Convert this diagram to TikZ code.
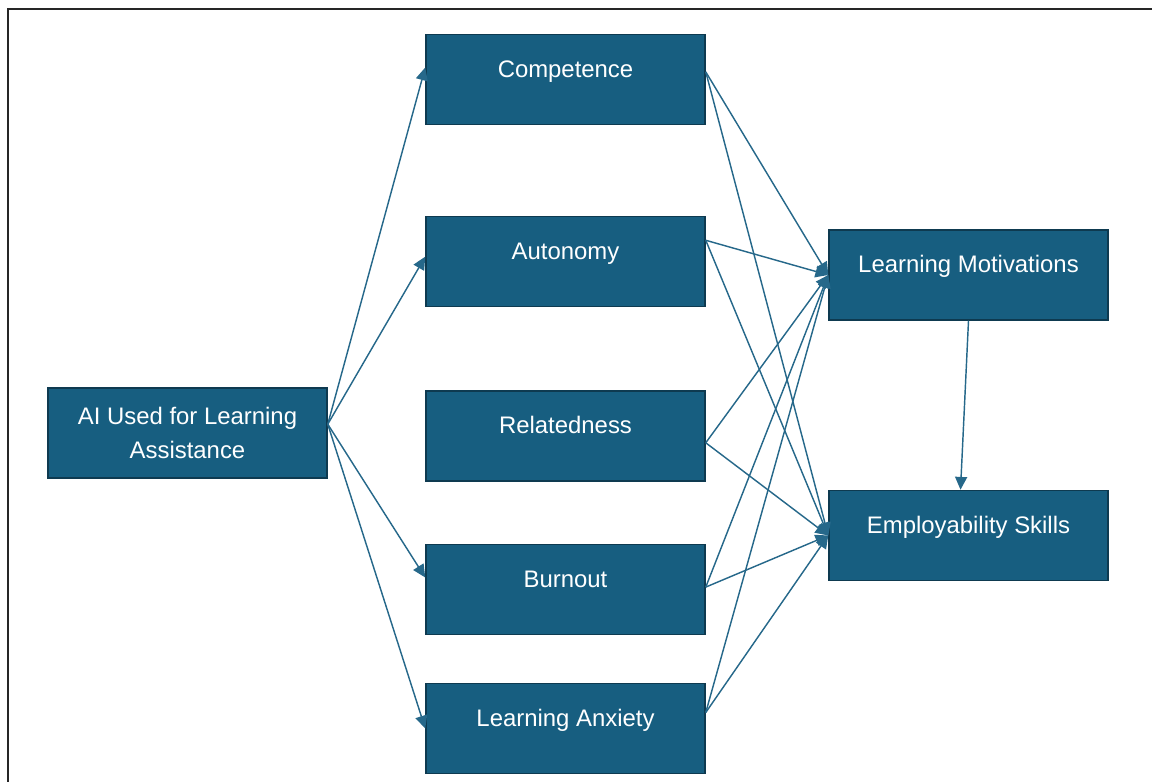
\documentclass[tikz,border=0pt]{standalone}
\usepackage{fontspec}
\setmainfont{Liberation Sans}
\usetikzlibrary{arrows.meta}
\definecolor{boxblue}{RGB}{23,94,128}
\definecolor{boxedge}{RGB}{14,58,80}
\definecolor{linkblue}{RGB}{38,104,138}
\begin{document}
\begin{tikzpicture}[x=1cm,y=1cm,
  factor/.style={draw=boxedge, line width=0.038cm, fill=boxblue, text=white,
    minimum width=6.975cm, minimum height=2.25cm, inner sep=0pt, align=center,
    font=\fontsize{17}{24}\selectfont},
  upper/.style={factor, text height=0.45cm, text depth=0.57cm},
  link/.style={draw=linkblue, line width=0.036cm,
    -{Triangle[length=0.32cm,width=0.3cm]}}]
  \useasboundingbox (0,0) rectangle (28.8,19.55);
  \draw[line width=0.05cm, black!85] (0.2,0) -- (0.2,19.325) -- (28.8,19.325);

  \node[factor] (ai) at (4.6875,8.725) {AI Used for Learning\\Assistance};
  \node[upper] (comp) at (14.1375,17.5625) {Competence};
  \node[upper] (auto) at (14.1375,13.0125) {Autonomy};
  \node[upper] (rel) at (14.1375,8.65) {Relatedness};
  \node[upper] (burn) at (14.1375,4.8125) {Burnout};
  \node[upper] (anx) at (14.1375,1.3375) {Learning Anxiety};
  \node[upper] (lm) at (24.2125,12.675) {Learning Motivations};
  \node[upper] (es) at (24.2125,6.1625) {Employability Skills};

  \draw[link] ([yshift=0.22cm]ai.east) -- ([yshift=0.3cm]comp.west);
  \draw[link] ([yshift=0.22cm]ai.east) -- ([yshift=0.12cm]auto.west);
  \draw[link] ([yshift=0.22cm]ai.east) -- ([yshift=0.3cm]burn.west);
  \draw[link] ([yshift=0.22cm]ai.east) -- (anx.west);

  \draw[link] ([yshift=0.19cm]comp.east) -- (lm.west);
  \draw[link] ([yshift=0.19cm]comp.east) -- (es.west);
  \draw[link] ([yshift=0.53cm]auto.east) -- (lm.west);
  \draw[link] ([yshift=0.53cm]auto.east) -- (es.west);
  \draw[link] ([yshift=-0.17cm]rel.east) -- (lm.west);
  \draw[link] ([yshift=-0.17cm]rel.east) -- (es.west);
  \draw[link] ([yshift=0.06cm]burn.east) -- (lm.west);
  \draw[link] ([yshift=0.06cm]burn.east) -- (es.west);
  \draw[link] ([yshift=0.4cm]anx.east) -- (lm.west);
  \draw[link] ([yshift=0.4cm]anx.east) -- (es.west);

  \draw[link] (lm.south) -- ([xshift=-0.2cm]es.north);
\end{tikzpicture}
\end{document}
